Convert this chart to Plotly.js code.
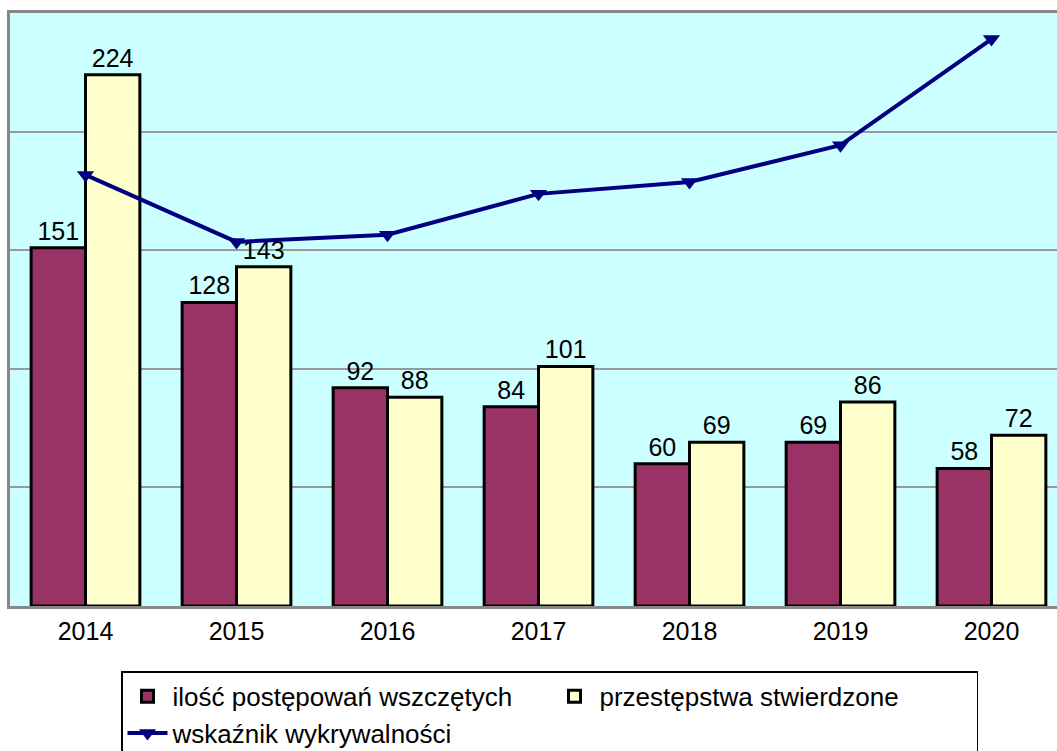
<!DOCTYPE html>
<html><head><meta charset="utf-8">
<script src="https://cdn.plot.ly/plotly-3.0.1.min.js"></script>
<style>html,body{margin:0;padding:0;background:#fff;overflow:hidden;width:1057px;height:751px}</style>
</head><body><div id="chart"></div>
<script>
const years = ['2014','2015','2016','2017','2018','2019','2020'];
const wszczete = [151,128,92,84,60,69,58];
const stwierdzone = [224,143,88,101,69,86,72];
const wykrywalnosc = [72.7,61.4,62.6,69.5,71.5,77.7,95.6];
const names = ['ilość postępowań wszczętych','przestępstwa stwierdzone','wskaźnik wykrywalności'];

const fam = 'Liberation Sans, Arial, sans-serif';
const labelFont = {family:fam, size:25, color:'#000'};
const traces = [
  {type:'bar', x:years, y:wszczete, name:names[0], text:wszczete.map(String), textposition:'outside',
   textfont:labelFont, cliponaxis:false, constraintext:'none',
   marker:{color:'#993366', line:{color:'#000', width:3}}},
  {type:'bar', x:years, y:stwierdzone, name:names[1], text:stwierdzone.map(String), textposition:'outside',
   textfont:labelFont, cliponaxis:false, constraintext:'none',
   marker:{color:'#FFFFCC', line:{color:'#000', width:3}}},
  {type:'scatter', mode:'lines+markers', x:years, y:wykrywalnosc, name:names[2], yaxis:'y2',
   line:{color:'#000080', width:4}, marker:{symbol:'triangle-down', size:15, color:'#000080'}, cliponaxis:false}
];
const layout = {
  width:1067, height:751,
  margin:{l:10, r:0, t:13, b:145, autoexpand:false},
  paper_bgcolor:'#fff', plot_bgcolor:'#CCFFFF',
  font:labelFont,
  barmode:'group', bargap:0.28, bargroupgap:0,
  showlegend:true,
  xaxis:{tickfont:{family:fam, size:25, color:'#000'}, ticklabelstandoff:1, automargin:false,
    showline:true, linecolor:'#888', linewidth:3, mirror:true, ticks:'', fixedrange:true},
  yaxis:{range:[0,250], dtick:50, showticklabels:false, showgrid:true, gridcolor:'#999', gridwidth:2,
    showline:true, linecolor:'#888', linewidth:3, mirror:true, zeroline:false, ticks:''},
  yaxis2:{range:[0,100], overlaying:'y', side:'right', visible:false},
  legend:{orientation:'h', xref:'container', yref:'container', x:0.515, xanchor:'center', y:0.106, yanchor:'top',
    bordercolor:'#000', borderwidth:1.5, bgcolor:'#fff', itemwidth:40, traceorder:'normal',
    entrywidthmode:'pixels', entrywidth:372,
    font:{family:fam, size:26, color:'#000'}}
};
Plotly.newPlot('chart', traces, layout, {displayModeBar:false, staticPlot:true});
</script></body></html>
